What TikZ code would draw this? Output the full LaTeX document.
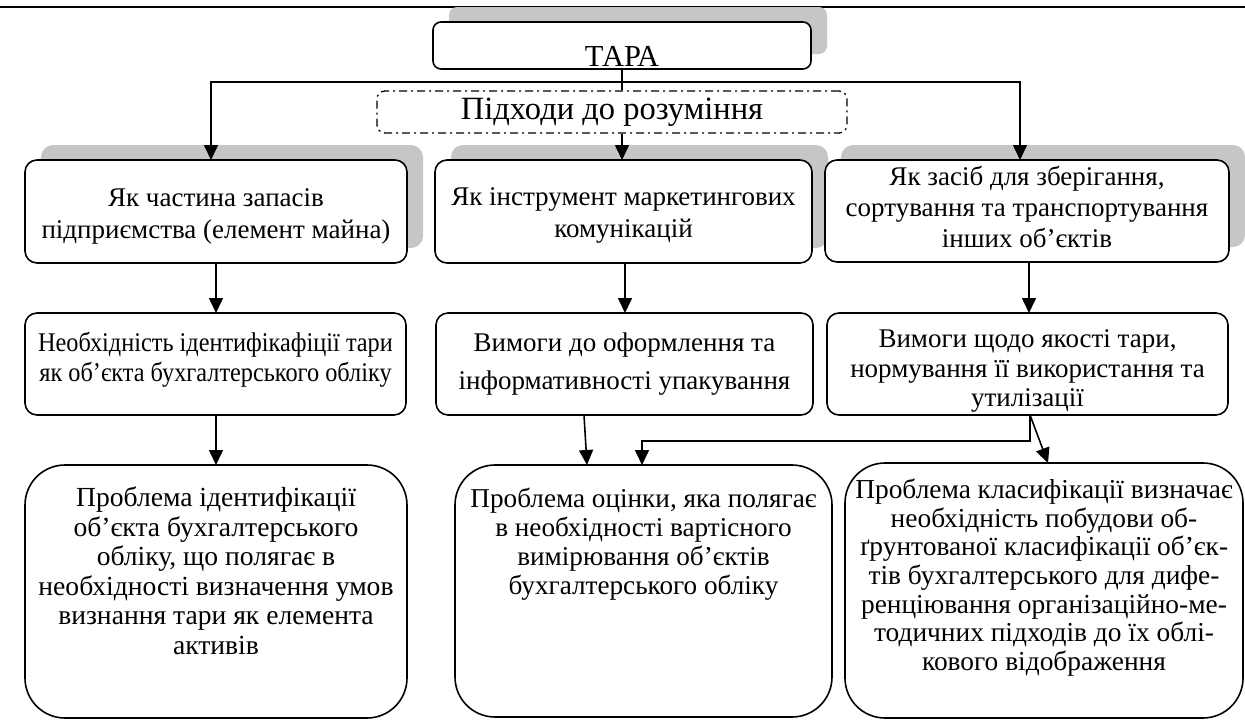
\documentclass[tikz,border=0pt]{standalone}
\usepackage{fontspec}
\usepackage{graphicx}
\setmainfont{Liberation Serif}
\usetikzlibrary{arrows.meta,shadows,calc}
\definecolor{shadowgray}{RGB}{198,198,198}
\newcommand{\bt}[4]{\begin{minipage}[c][#2][#3]{#1}\centering #4\end{minipage}}
\newcommand{\cnd}[1]{\scalebox{0.9}[1]{#1}}
\begin{document}
\begin{tikzpicture}[x=1pt,y=-1pt,
  every node/.style={font=\fontsize{27}{29.5}\selectfont},
  bx/.style={draw,fill=white,line width=1.6pt,rounded corners=12pt,inner sep=0pt,outer sep=0pt},
  bigbx/.style={bx,rounded corners=40pt},
  shd/.style={drop shadow={shadow xshift=16pt,shadow yshift=15pt,fill=shadowgray,opacity=1}},
  dashbx/.style={draw,line width=1.3pt,rounded corners=8pt,inner sep=0pt,dash pattern=on 8pt off 4pt on 2pt off 4pt},
  conn/.style={line width=1.6pt},
  arr/.style={conn,-{Triangle[width=14pt,length=15pt]}},
  arr2/.style={conn,{Triangle[width=14pt,length=15pt]}-{Triangle[width=14pt,length=15pt]}}]
\useasboundingbox (0,0) rectangle (1245,720);
\coordinate (tl) at (0,7);
\coordinate (tr) at (1245,7);
\draw[line width=1.5pt] (tl) -- (tr);

% top
\node[bx,rounded corners=8pt,shd] (tara) at (622,45.5) {\bt{378pt}{47pt}{b}{\fontsize{30.5}{33}\selectfont ТАРА\par\vspace*{3pt}}};
\node[dashbx] (ap) at (612,112) {\bt{470pt}{42pt}{c}{\fontsize{32.5}{35}\selectfont Підходи до розуміння}};

% row 1
\node[bx,shd,font=\fontsize{27}{31.5}\selectfont] (r1a) at (216,211.5) {\bt{382pt}{103pt}{c}{\vspace*{10pt}Як частина запасів\\підприємства (елемент майна)}};
\node[bx,shd,font=\fontsize{27}{31.5}\selectfont] (r1b) at (623.5,211.5) {\bt{377pt}{103pt}{c}{\vspace*{8pt}Як інструмент маркетингових\\комунікацій}};
\node[bx,shd,font=\fontsize{27}{31}\selectfont] (r1c) at (1027,211) {\bt{404pt}{102pt}{c}{\vspace*{-9pt}Як засіб для зберігання,\\сортування та транспортування\\інших об’єктів}};

% row 2
\node[bx] (r2a) at (215.5,364) {\bt{381pt}{102pt}{t}{\vspace*{19pt}\cnd{Необхідність ідентифікафіції тари}\\[1pt]\cnd{як об’єкта бухгалтерського обліку}}};
\node[bx] (r2b) at (624.5,364) {\bt{377pt}{102pt}{c}{Вимоги до оформлення та\\[8pt]інформативності упакування}};
\node[bx] (r2c) at (1027.5,364) {\bt{401pt}{102pt}{c}{\vspace*{14pt}Вимоги щодо якості тари,\\нормування її використання та\\утилізації}};

% row 3
\node[bigbx,font=\fontsize{27.6}{29.5}\selectfont] (r3a) at (216,591.5) {\bt{382pt}{253pt}{t}{\vspace*{22pt}Проблема ідентифікації\\об’єкта бухгалтерського\\обліку, що полягає в\\необхідності визначення умов\\визнання тари як елемента\\активів}};
\node[bigbx,font=\fontsize{27.2}{29}\selectfont] (r3b) at (643.5,591) {\bt{377pt}{252pt}{t}{\vspace*{23pt}Проблема оцінки, яка полягає\\в необхідності вартісного\\вимірювання об’єктів\\бухгалтерського обліку}};
\node[bigbx,font=\fontsize{27.4}{28.6}\selectfont] (r3c) at (1044,590.5) {\bt{398pt}{255pt}{t}{\vspace*{16pt}Проблема класифікації визначає\\необхідність побудови об-\\ґрунтованої класифікації об’єк-\\тів бухгалтерського для дифе-\\ренціювання організаційно-ме-\\тодичних підходів до їх облі-\\кового відображення}};

% connector points
\coordinate (jL) at (211,82);
\coordinate (jR) at (1020,82);
\coordinate (b1) at ($(r1b.south)+(1.5,0)$);
\coordinate (c1) at ($(r1c.south)+(2,0)$);
\coordinate (b2) at ($(r2b.south)+(-40.5,0)$);
\coordinate (b3) at ($(r3b.north)+(-56.5,0)$);
\coordinate (k) at ($(r2c.south)+(2.5,0)$);
\coordinate (b3r) at ($(r3b.north)+(-1.5,0)$);
\coordinate (c3) at ($(r3c.north)+(4,0)$);

% connectors
\draw[conn] (tara.south) -- (ap.north -| tara.south);
\draw[arr2] (jL |- r1a.north) -- (jL) -- (jR) -- (jR |- r1c.north);
\draw[arr] (ap.south -| tara.south) -- (r1b.north -| tara.south);

\draw[arr] (r1a.south) -- (r2a.north -| r1a.south);
\draw[arr] (b1) -- (b1 |- r2b.north);
\draw[arr] (c1) -- (c1 |- r2c.north);

\draw[arr] (r2a.south -| r1a.south) -- (r3a.north);
\draw[arr] (b2) -- (b3);
\draw[arr] (k) -- ++(0,26) -| (b3r);
\draw[arr] (k) -- (c3);
\end{tikzpicture}
\end{document}
